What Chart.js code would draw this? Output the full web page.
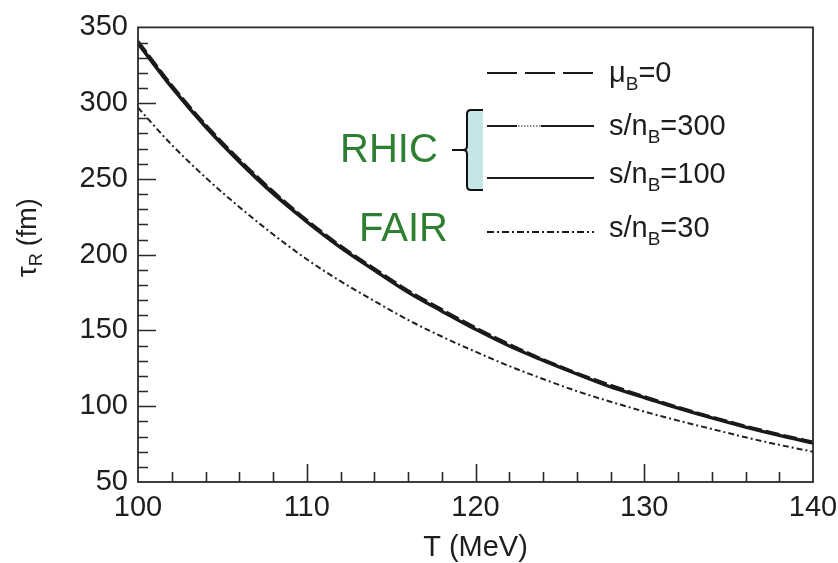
<!DOCTYPE html>
<html lang="en">
<head>
  <meta charset="UTF-8" />
  <title>Relaxation time vs temperature</title>
  <script src="https://cdn.jsdelivr.net/npm/chart.js"></script>
  <style>
    html, body { margin: 0; padding: 0; background: #fff; }
    .caixa { width: 838px; height: 563px; }
  </style>
</head>
<body>
  <div class="caixa">
    <canvas id="grafico" width="838" height="563"></canvas>
  </div>

  <script>
    // temperature grid (MeV)
    const temps = [100, 102, 104, 106, 108, 110, 112, 114, 116, 118, 120,
                   122, 124, 126, 128, 130, 132, 134, 136, 138, 140];

    // tau_R (fm) for each case
    const tauMuB0   = [341, 312, 286, 263, 242, 223, 206, 191, 176.5, 164, 152,
                       141, 131, 122, 114, 106.5, 99.5, 93, 87, 81.5, 76.5];
    const tauS300   = [340, 311, 285, 262, 241, 222, 205, 190, 175.5, 163, 151,
                       140, 130.5, 121.5, 113, 106, 99, 92.5, 86.5, 81, 76];
    const tauS100   = [339, 310, 284, 261, 240, 221.5, 204.5, 189.5, 175, 162.5, 150.5,
                       139.5, 130, 121, 112.5, 105.5, 98.5, 92, 86, 80.5, 75.5];
    const tauS30    = [297, 272.5, 251, 231.5, 213.5, 197, 182.5, 169.5, 157, 146, 136,
                       126.5, 118, 110, 103, 96.5, 90.5, 85, 79.5, 74.5, 70];

    const xTicks = [100, 110, 120, 130, 140];
    const yTicks = [50, 100, 150, 200, 250, 300, 350];

    const fonte = '"Liberation Sans", Arial, sans-serif';
    const tinta = '#1e1e1e';
    const verde = '#2f7f33';

    function pontos(ys) {
      return temps.map((t, i) => ({ x: t, y: ys[i] }));
    }

    // frame, inward ticks, axis title, legend and annotations
    const extras = {
      id: 'extras',
      afterDraw(chart) {
        const ctx = chart.ctx;
        const a = chart.chartArea;
        const sx = chart.scales.x;
        const sy = chart.scales.y;
        ctx.save();

        // frame
        ctx.strokeStyle = '#2a2a2a';
        ctx.lineWidth = 1.8;
        ctx.strokeRect(a.left, a.top, a.right - a.left, a.bottom - a.top);

        // inward ticks
        ctx.lineWidth = 1.6;
        ctx.beginPath();
        for (let v = 60; v < 350; v += 10) {
          const y = Math.round(sy.getPixelForValue(v)) + 0.5;
          const len = (v % 50 === 0) ? 18 : 10;
          ctx.moveTo(a.left, y);
          ctx.lineTo(a.left + len, y);
        }
        for (let t = 102; t < 140; t += 2) {
          const x = Math.round(sx.getPixelForValue(t)) + 0.5;
          const len = (t % 10 === 0) ? 18 : 10;
          ctx.moveTo(x, a.bottom);
          ctx.lineTo(x, a.bottom - len);
        }
        ctx.stroke();

        // y title: tau_R (fm)
        ctx.save();
        ctx.translate(36, 277);
        ctx.rotate(-Math.PI / 2);
        ctx.fillStyle = tinta;
        ctx.textBaseline = 'alphabetic';
        ctx.textAlign = 'left';
        ctx.font = '27px ' + fonte;
        ctx.fillText('τ', 0, 0);
        let w = ctx.measureText('τ').width;
        ctx.font = '18px ' + fonte;
        ctx.fillText('R', w, 6);
        w += ctx.measureText('R').width;
        ctx.font = '27px ' + fonte;
        ctx.fillText('(fm)', w + 7, 0);
        ctx.restore();

        // legend
        const linhas = [
          { y: 73,  base: 82,  nome: ['μ', 'B', '=0'],      estilo: 'tracos' },
          { y: 126, base: 135, nome: ['s/n', 'B', '=300'],  estilo: 'pontilhado' },
          { y: 178, base: 183, nome: ['s/n', 'B', '=100'],  estilo: 'cheio' },
          { y: 232, base: 237, nome: ['s/n', 'B', '=30'],   estilo: 'tracoponto' }
        ];
        const x0 = 487, x1 = 594;
        ctx.strokeStyle = '#1a1a1a';
        ctx.lineWidth = 1.8;
        linhas.forEach(l => {
          ctx.beginPath();
          if (l.estilo === 'tracos') {
            ctx.setLineDash([30, 8]);
            ctx.moveTo(x0, l.y); ctx.lineTo(x1, l.y); ctx.stroke();
          } else if (l.estilo === 'pontilhado') {
            ctx.setLineDash([]);
            ctx.moveTo(x0, l.y); ctx.lineTo(517, l.y);
            ctx.moveTo(541, l.y); ctx.lineTo(x1, l.y);
            ctx.stroke();
            ctx.beginPath();
            ctx.lineWidth = 1;
            ctx.setLineDash([1.5, 1.5]);
            ctx.moveTo(518, l.y); ctx.lineTo(541, l.y); ctx.stroke();
            ctx.lineWidth = 1.8;
          } else if (l.estilo === 'cheio') {
            ctx.setLineDash([]);
            ctx.moveTo(x0, l.y); ctx.lineTo(x1, l.y); ctx.stroke();
          } else {
            ctx.setLineDash([7, 3, 2, 3]);
            ctx.moveTo(x0, l.y); ctx.lineTo(x1, l.y); ctx.stroke();
          }
          ctx.setLineDash([]);

          ctx.fillStyle = tinta;
          ctx.textBaseline = 'alphabetic';
          ctx.textAlign = 'left';
          ctx.font = '29px ' + fonte;
          let px = 609;
          ctx.fillText(l.nome[0], px, l.base);
          px += ctx.measureText(l.nome[0]).width;
          ctx.font = '19px ' + fonte;
          ctx.fillText(l.nome[1], px, l.base + 8);
          px += ctx.measureText(l.nome[1]).width;
          ctx.font = '29px ' + fonte;
          ctx.fillText(l.nome[2], px, l.base);
        });

        // RHIC brace
        ctx.fillStyle = '#c6e5e9';
        ctx.fillRect(467, 110, 16, 80);
        ctx.strokeStyle = '#111';
        ctx.lineWidth = 2;
        ctx.beginPath();
        ctx.moveTo(483, 110);
        ctx.lineTo(471, 110);
        ctx.quadraticCurveTo(467, 110, 467, 114);
        ctx.lineTo(467, 146);
        ctx.quadraticCurveTo(467, 150, 463, 150);
        ctx.quadraticCurveTo(467, 150, 467, 154);
        ctx.lineTo(467, 186);
        ctx.quadraticCurveTo(467, 190, 471, 190);
        ctx.lineTo(483, 190);
        ctx.moveTo(452, 150);
        ctx.lineTo(463, 150);
        ctx.stroke();

        // experiment labels
        ctx.fillStyle = verde;
        ctx.font = '40px ' + fonte;
        ctx.textBaseline = 'alphabetic';
        ctx.fillText('RHIC', 340, 162);
        ctx.fillText('FAIR', 359, 241);

        ctx.restore();
      }
    };

    const ctx = document.getElementById('grafico').getContext('2d');
    new Chart(ctx, {
      type: 'line',
      data: {
        datasets: [
          { label: 'μB=0', data: pontos(tauMuB0), borderColor: '#1a1a1a',
            borderWidth: 2.6, borderDash: [14, 4] },
          { label: 's/nB=300', data: pontos(tauS300), borderColor: '#1a1a1a',
            borderWidth: 2.6 },
          { label: 's/nB=100', data: pontos(tauS100), borderColor: '#1a1a1a',
            borderWidth: 2.6 },
          { label: 's/nB=30', data: pontos(tauS30), borderColor: '#222',
            borderWidth: 2, borderDash: [6, 3, 2, 3] }
        ]
      },
      options: {
        responsive: false,
        animation: false,
        layout: { padding: { top: 19, right: 0, left: 0, bottom: 0 } },
        elements: {
          point: { radius: 0 },
          line: { cubicInterpolationMode: 'monotone', fill: false }
        },
        plugins: {
          legend: { display: false },
          tooltip: { enabled: false }
        },
        scales: {
          x: {
            type: 'linear',
            min: 100,
            max: 140,
            afterFit: s => { s.height = 81; s.paddingRight = 25; s.paddingLeft = 0; },
            afterBuildTicks: s => { s.ticks = xTicks.map(v => ({ value: v })); },
            grid: { display: false, drawTicks: false },
            border: { display: false },
            ticks: {
              color: tinta,
              padding: 9,
              maxRotation: 0,
              font: { family: fonte, size: 29 }
            },
            title: {
              display: true,
              text: 'T (MeV)',
              color: tinta,
              font: { family: fonte, size: 29, lineHeight: 1 },
              padding: { top: 0, bottom: 1 }
            }
          },
          y: {
            min: 50,
            max: 350,
            afterFit: s => { s.width = 138; },
            afterBuildTicks: s => { s.ticks = yTicks.map(v => ({ value: v })); },
            grid: { display: false, drawTicks: false },
            border: { display: false },
            ticks: {
              color: tinta,
              padding: 10,
              font: { family: fonte, size: 29 }
            }
          }
        }
      },
      plugins: [extras]
    });
  </script>
</body>
</html>
